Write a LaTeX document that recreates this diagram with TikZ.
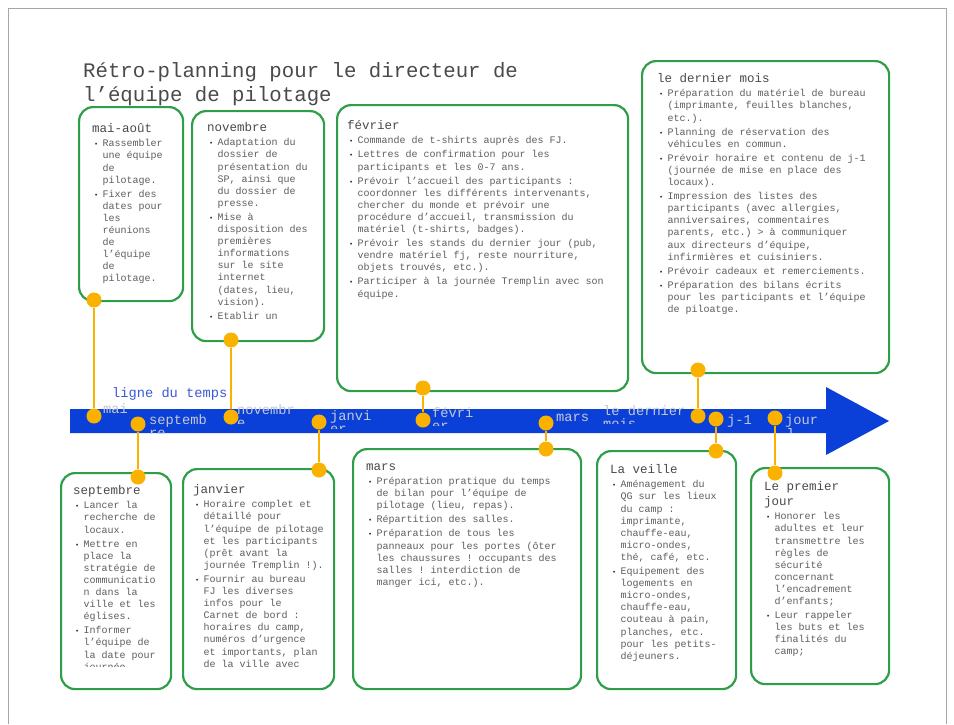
\documentclass[tikz,border=0pt]{standalone}
\usepackage{fontspec}
\setmainfont{Liberation Mono}
\definecolor{boxgreen}{HTML}{2E9E48}
\definecolor{dotorange}{HTML}{FBB100}
\definecolor{tlblue}{HTML}{0B40D8}
\definecolor{txtgray}{HTML}{5E5E5E}
\definecolor{hdgray}{HTML}{4A4A4A}
\definecolor{lblgray}{HTML}{C4C8D6}
\definecolor{lgblue}{HTML}{3A5AD8}
\newcommand\bodyfont{\fontsize{10}{12.1}\selectfont\spaceskip=0.6em\relax\xspaceskip=0.6em\relax}
\newcommand\hdfont{\fontsize{12.5}{15}\selectfont\spaceskip=0.6em\relax\xspaceskip=0.6em\relax}
\newcommand\titlefont{\fontsize{20.7}{24}\selectfont}
\newcommand\lblfont{\fontsize{13.7}{13}\selectfont\spaceskip=0.6em\relax\xspaceskip=0.6em\relax}
\newcommand\itm[1]{\par\vspace{2pt}\noindent\hangindent=10.5pt\hangafter=1\makebox[10.5pt][l]{\hspace{2pt}\textcolor{black!80}{\fontsize{7}{7}\selectfont\textbullet}}\bodyfont#1\par}
\newcommand\hd[1]{{\hdfont\color{hdgray}#1\par}}
\tikzset{
  gbox/.style={draw=boxgreen, line width=2.2pt, rounded corners=14pt, fill=white, anchor=north west, inner sep=0pt},
  btext/.style={anchor=north west, inner sep=0pt, text width=#1, align=left, font=\bodyfont, text=txtgray, execute at begin node=\bodyfont},
  odot/.style={circle, fill=dotorange, inner sep=0pt, minimum size=15pt},
  conn/.style={draw=dotorange, line width=2.2pt},
  tlabel/.style={anchor=north west, inner sep=0pt, font=\lblfont, text=lblgray, align=left},
}
\begin{document}
\begin{tikzpicture}[x=1pt,y=-1pt]
\useasboundingbox (0,0) rectangle (954,724);
\draw[gray!70, line width=0.8pt] (8,724) -- (8,8) -- (946,8) -- (946,724);

% title
\node[anchor=north west, inner sep=0pt, font=\titlefont, text=hdgray, align=left] (title) at (83,62)
  {Rétro-planning pour le directeur de\\l’équipe de pilotage};

% timeline arrow
\fill[tlblue] (70,409) -- (826,409) -- (826,387) -- (889,421) -- (826,455) -- (826,433) -- (70,433) -- cycle;
\node[anchor=west, inner sep=0pt, font=\lblfont, text=lgblue] (tltitle) at (112,394) {ligne du temps};

% boxes
\node[gbox, minimum width=104pt, minimum height=194pt] (b1) at (78,106) {};
\node[gbox, minimum width=132pt, minimum height=230pt] (b2) at (191,110) {};
\node[gbox, minimum width=291pt, minimum height=286pt] (b3) at (336,104) {};
\node[gbox, minimum width=247pt, minimum height=312pt] (b4) at (641,60) {};
\node[gbox, minimum width=110pt, minimum height=216pt] (b5) at (60,472) {};
\node[gbox, minimum width=151pt, minimum height=220pt] (b6) at (182,468) {};
\node[gbox, minimum width=228pt, minimum height=240pt] (b7) at (352,448) {};
\node[gbox, minimum width=139pt, minimum height=238pt] (b8) at (596,450) {};
\node[gbox, minimum width=138pt, minimum height=216pt] (b9) at (750,467) {};

% box texts
\node[btext=85pt] (t1) at (92,123.5) {\hd{mai-août}
\itm{Rassembler\newline une équipe\newline de\newline pilotage.}
\itm{Fixer des\newline dates pour\newline les\newline réunions\newline de\newline l’équipe\newline de\newline pilotage.}};

\node[btext=118pt] (t2) at (207,122.5) {\hd{novembre}
\itm{Adaptation du\newline dossier de\newline présentation du\newline SP, ainsi que\newline du dossier de\newline presse.}
\itm{Mise à\newline disposition des\newline premières\newline informations\newline sur le site\newline internet\newline (dates, lieu,\newline vision).}
\itm{Etablir un}};

\node[btext=275pt] (t3) at (347,120.5) {\hd{février}
\itm{Commande de t-shirts auprès des FJ.}
\itm{Lettres de confirmation pour les\newline participants et les 0-7 ans.}
\itm{Prévoir l’accueil des participants :\newline coordonner les différents intervenants,\newline chercher du monde et prévoir une\newline procédure d’accueil, transmission du\newline matériel (t-shirts, badges).}
\itm{Prévoir les stands du dernier jour (pub,\newline vendre matériel fj, reste nourriture,\newline objets trouvés, etc.).}
\itm{Participer à la journée Tremplin avec son\newline équipe.}};

\node[btext=232pt] (t4) at (657,73.5) {\hd{le dernier mois}
\itm{Préparation du matériel de bureau\newline (imprimante, feuilles blanches,\newline etc.).}
\itm{Planning de réservation des\newline véhicules en commun.}
\itm{Prévoir horaire et contenu de j-1\newline (journée de mise en place des\newline locaux).}
\itm{Impression des listes des\newline participants (avec allergies,\newline anniversaires, commentaires\newline parents, etc.) > à communiquer\newline aux directeurs d’équipe,\newline infirmières et cuisiniers.}
\itm{Prévoir cadeaux et remerciements.}
\itm{Préparation des bilans écrits\newline pour les participants et l'équipe\newline de piloatge.}};

\begin{scope}
\clip (62,474) rectangle (168,666);
\node[btext=95pt] (t5) at (73,485.5) {\hd{septembre}
\itm{Lancer la\newline recherche de\newline locaux.}
\itm{Mettre en\newline place la\newline stratégie de\newline communicatio\newline n dans la\newline ville et les\newline églises.}
\itm{Informer\newline l’équipe de\newline la date pour\newline journée\newline Tremplin.}};
\end{scope}

\node[btext=140pt] (t6) at (193,484.5) {\hd{janvier}
\itm{Horaire complet et\newline détaillé pour\newline l’équipe de pilotage\newline et les participants\newline (prêt avant la\newline journée Tremplin !).}
\itm{Fournir au bureau\newline FJ les diverses\newline infos pour le\newline Carnet de bord :\newline horaires du camp,\newline numéros d’urgence\newline et importants, plan\newline de la ville avec}};

\node[btext=212pt] (t7) at (366,463.5) {\hd{mars}
\itm{Préparation pratique du temps\newline de bilan pour l’équipe de\newline pilotage (lieu, repas).}
\itm{Répartition des salles.}
\itm{Préparation de tous les\newline panneaux pour les portes (ôter\newline les chaussures ! occupants des\newline salles ! interdiction de\newline manger ici, etc.).}};

\begin{scope}
\clip (598,452) rectangle (733,663);
\node[btext=124pt] (t8) at (610,464.5) {\hd{La veille}
\itm{Aménagement du\newline QG sur les lieux\newline du camp :\newline imprimante,\newline chauffe-eau,\newline micro-ondes,\newline thé, café, etc.}
\itm{Equipement des\newline logements en\newline micro-ondes,\newline chauffe-eau,\newline couteau à pain,\newline planches, etc.\newline pour les petits-\newline déjeuners.}
\itm{Installation de\newline la salle}};
\end{scope}

\node[btext=124pt] (t9) at (764,481.5) {\hd{Le premier\newline jour}
\itm{Honorer les\newline adultes et leur\newline transmettre les\newline règles de\newline sécurité\newline concernant\newline l’encadrement\newline d’enfants;}
\itm{Leur rappeler\newline les buts et les\newline finalités du\newline camp;}};

% timeline labels
\node[tlabel] (l1) at (103,403) {mai};
\begin{scope}\clip (145,410) rectangle (215,433);
\node[tlabel] (l2) at (149,414) {septemb\\re};\end{scope}
\begin{scope}\clip (234,400) rectangle (305,423);
\node[tlabel] (l3) at (237,404) {novembr\\e};\end{scope}
\begin{scope}\clip (326,405) rectangle (380,428.5);
\node[tlabel] (l4) at (330,410) {janvi\\er};\end{scope}
\begin{scope}\clip (428,403) rectangle (482,425.5);
\node[tlabel] (l5) at (432,407) {févri\\er};\end{scope}
\node[tlabel] (l6) at (556,414) {mars};
\begin{scope}\clip (600,400) rectangle (690,423.5);
\node[tlabel] (l7) at (603,405) {le dernier\\mois};\end{scope}
\node[tlabel] (l8) at (727,414) {j-1};
\begin{scope}\clip (782,405) rectangle (830,432.5);
\node[tlabel] (l9) at (785,414) {jour\\J};\end{scope}

% dots
\node[odot] (d1) at (94,300) {};   \node[odot] (p1) at (94,416) {};
\node[odot] (d2) at (231,340) {};  \node[odot] (p2) at (231,417) {};
\node[odot] (d3) at (423,388) {};  \node[odot] (p3) at (423,420) {};
\node[odot] (d4) at (698,370) {};  \node[odot] (p4) at (698,416) {};
\node[odot] (d5) at (138,477) {};  \node[odot] (p5) at (138,424) {};
\node[odot] (d6) at (319,470) {};  \node[odot] (p6) at (319,422) {};
\node[odot] (d7) at (546,449) {};  \node[odot] (p7) at (546,423) {};
\node[odot] (d8) at (716,451) {};  \node[odot] (p8) at (716,419) {};
\node[odot] (d9) at (775,473) {};  \node[odot] (p9) at (775,418) {};

% connectors
\foreach \i in {1,...,9} { \draw[conn] (d\i) -- (p\i); }
\end{tikzpicture}
\end{document}
